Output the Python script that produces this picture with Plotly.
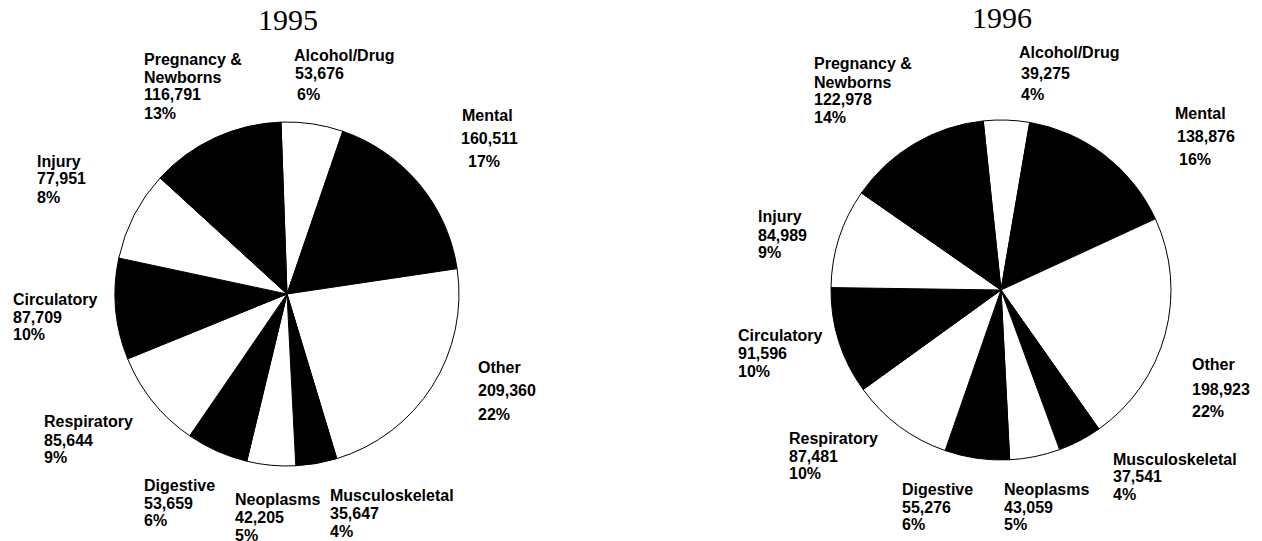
import plotly.graph_objects as go

# Screen is 1262x541; the page body adds an 8px margin, so the figure is shifted by OFF.
SW, SH = 1262, 541
OFF = 8
FW, FH = SW - OFF, SH - OFF

categories = ["Alcohol/Drug", "Mental", "Other", "Musculoskeletal", "Neoplasms",
              "Digestive", "Respiratory", "Circulatory", "Injury", "Pregnancy & Newborns"]
label_lines = [["Alcohol/Drug"], ["Mental"], ["Other"], ["Musculoskeletal"], ["Neoplasms"],
               ["Digestive"], ["Respiratory"], ["Circulatory"], ["Injury"], ["Pregnancy &", "Newborns"]]

values_1995 = [53676, 160511, 209360, 35647, 42205, 53659, 85644, 87709, 77951, 116791]
pct_1995 = ["6%", "17%", "22%", "4%", "5%", "6%", "9%", "10%", "8%", "13%"]

values_1996 = [39275, 138876, 198923, 37541, 43059, 55276, 87481, 91596, 84989, 122978]
pct_1996 = ["4%", "16%", "22%", "4%", "5%", "6%", "10%", "10%", "9%", "14%"]

years = ["1995", "1996"]

# ---- layout / style (screen pixel positions of the label lines) ----
colors = ["white", "black"] * 5

pos_1995 = [
    [(293, 55), (294, 74), (296, 95)],
    [(461, 116), (460, 138), (467, 162)],
    [(477, 367), (477, 391), (477, 414)],
    [(329, 495), (329, 513), (329, 531)],
    [(234, 499), (234, 517), (234, 535)],
    [(143, 485), (143, 503), (143, 520)],
    [(43, 421), (43, 440), (43, 457)],
    [(12, 299), (12, 317), (12, 334)],
    [(36, 162), (36, 179), (36, 197)],
    [(143, 59), (143, 77), (143, 95), (143, 113)],
]
pos_1996 = [
    [(1018, 53), (1020, 73), (1020, 94)],
    [(1174, 113), (1176, 136), (1178, 159)],
    [(1191, 364), (1191, 389), (1191, 411)],
    [(1112, 459), (1112, 477), (1112, 494)],
    [(1003, 489), (1003, 507), (1003, 524)],
    [(901, 489), (901, 507), (901, 524)],
    [(788, 438), (788, 456), (788, 473)],
    [(737, 335), (737, 353), (737, 371)],
    [(757, 217), (757, 235), (757, 253)],
    [(813, 64), (813, 82), (813, 99), (813, 117)],
]

pies = [
    dict(values=values_1995, pct=pct_1995, pos=pos_1995, cx=287, cy=294, r=172, rot=-2, tx=288, ty=20),
    dict(values=values_1996, pct=pct_1996, pos=pos_1996, cx=1001, cy=290, r=170, rot=-6, tx=1002, ty=17),
]


def px(x):
    return (x - OFF) / FW


def py(y):
    return 1 - (y - OFF) / FH


fig = go.Figure()
annotations = []
label_font = dict(family="Liberation Sans, Arial, sans-serif", size=16, color="black", weight="bold")

for yr, p in zip(years, pies):
    fig.add_trace(go.Pie(
        labels=categories, values=p["values"], sort=False, direction="clockwise",
        rotation=p["rot"], textinfo="none", showlegend=False,
        marker=dict(colors=colors, line=dict(color="black", width=1)),
        domain=dict(x=[px(p["cx"] - p["r"]), px(p["cx"] + p["r"])],
                    y=[py(p["cy"] + p["r"]), py(p["cy"] - p["r"])]),
        hovertemplate="%{label}<br>%{value:,}<extra></extra>",
    ))
    annotations.append(dict(text=yr, x=px(p["tx"]), y=py(p["ty"]), xref="paper", yref="paper",
                            xanchor="center", yanchor="middle", showarrow=False,
                            font=dict(family="Liberation Serif, Times New Roman, serif", size=30, color="black")))
    for i, cat in enumerate(categories):
        lines = label_lines[i] + [f"{p['values'][i]:,}", p["pct"][i]]
        for txt, (lx, ly) in zip(lines, p["pos"][i]):
            annotations.append(dict(text=txt, x=px(lx), y=py(ly), xref="paper", yref="paper",
                                    xanchor="left", yanchor="middle", showarrow=False,
                                    borderpad=0, font=label_font))

fig.update_layout(width=FW, height=FH, margin=dict(l=0, r=0, t=0, b=0),
                  paper_bgcolor="white", plot_bgcolor="white", annotations=annotations)

fig.write_html("out.html")
